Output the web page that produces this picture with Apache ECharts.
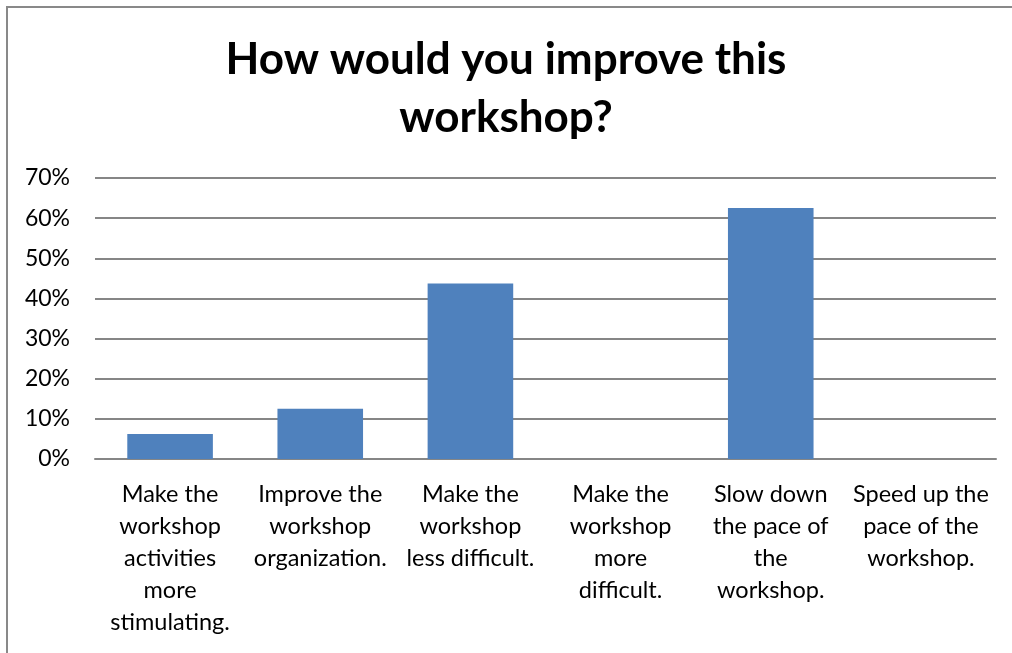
<!DOCTYPE html>
<html>
<head>
<meta charset="utf-8">
<script src="https://cdn.jsdelivr.net/npm/echarts@6/dist/echarts.min.js"></script>
<style>
  html, body { margin: 0; padding: 0; background: #fff; }
  #frame {
    position: absolute; left: 6px; top: 6px;
    width: 1012px; height: 660px;
    border: 2px solid #898989; box-sizing: border-box;
  }
  #chart { position: absolute; left: 0; top: 0; width: 1012px; height: 653px; }
</style>
</head>
<body>
<div id="frame"></div>
<div id="chart"></div>
<script>
// answer options (line breaks as in the original labels)
const categories = [
  'Make the\nworkshop\nactivities\nmore\nstimulating.',
  'Improve the\nworkshop\norganization.',
  'Make the\nworkshop\nless difficult.',
  'Make the\nworkshop\nmore\ndifficult.',
  'Slow down\nthe pace of\nthe\nworkshop.',
  'Speed up the\npace of the\nworkshop.'
];
// share of respondents, percent
const shares = [6.25, 12.5, 43.75, 0, 62.5, 0];
const yTicks = [0, 10, 20, 30, 40, 50, 60, 70];

const font = 'Lato, "Open Sans", sans-serif';

const myChart = echarts.init(document.getElementById('chart'));

const option = {
  animation: false,
  title: {
    text: 'How would you improve this\nworkshop?',
    left: 'center',
    top: 26,
    textStyle: {
      fontFamily: font,
      fontSize: 44,
      fontWeight: 'bold',
      color: '#000',
      lineHeight: 58
    }
  },
  grid: {
    left: 95,
    right: 16,
    top: 178,
    bottom: 194
  },
  xAxis: {
    type: 'category',
    data: categories,
    axisTick: { show: false },
    axisLine: { lineStyle: { color: '#868686', width: 2 } },
    axisLabel: {
      interval: 0,
      margin: 19,
      fontFamily: font,
      fontSize: 23.5,
      lineHeight: 32,
      color: '#000',
      align: 'center'
    }
  },
  yAxis: {
    type: 'value',
    min: yTicks[0],
    max: yTicks[yTicks.length - 1],
    interval: 10,
    axisLine: { show: false },
    axisTick: { show: false },
    splitLine: { lineStyle: { color: '#868686', width: 2 } },
    axisLabel: {
      margin: 25,
      fontFamily: font,
      fontSize: 23,
      color: '#000',
      formatter: '{value}%'
    }
  },
  series: [
    {
      type: 'bar',
      data: shares,
      barWidth: '57%',
      itemStyle: { color: '#4f81bd' }
    }
  ]
};

myChart.setOption(option);
</script>
</body>
</html>
